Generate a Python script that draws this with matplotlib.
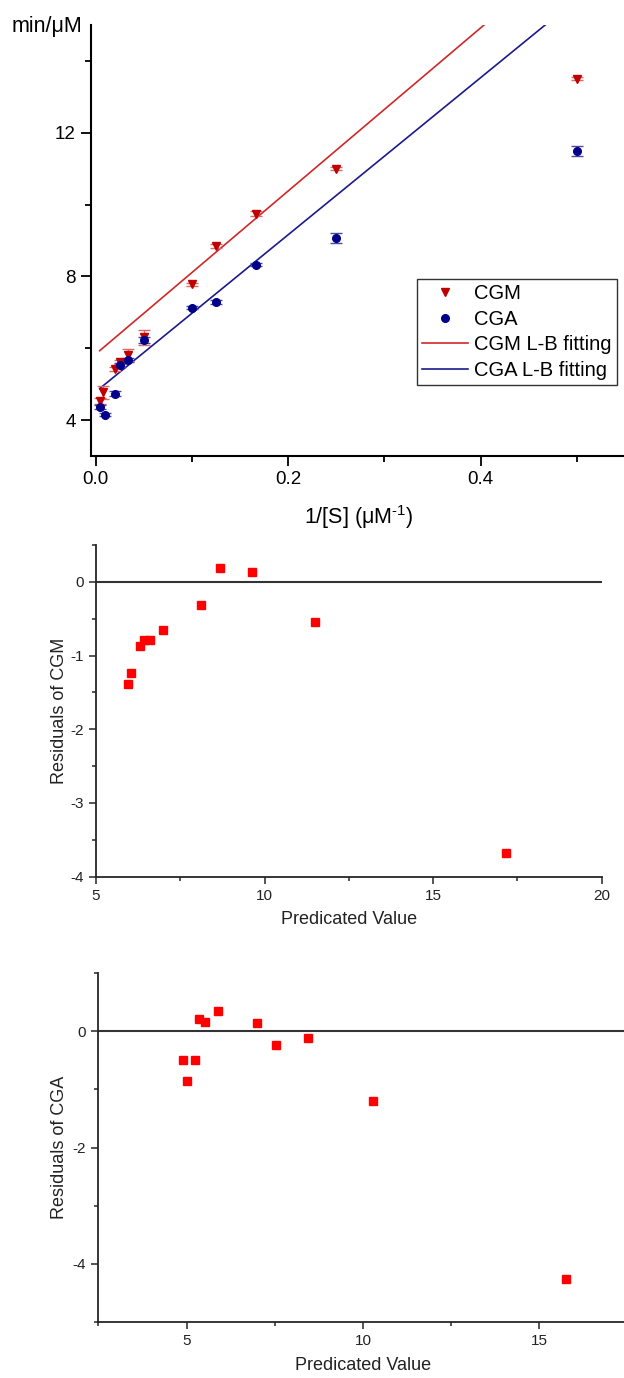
import matplotlib
matplotlib.use("Agg")
import matplotlib.pyplot as plt
import numpy as np
from matplotlib.ticker import MultipleLocator

plt.rcParams['font.family'] = ['Liberation Sans', 'DejaVu Sans']
plt.rcParams['axes.unicode_minus'] = False
plt.rcParams['mathtext.fontset'] = 'custom'
plt.rcParams['mathtext.rm'] = 'Liberation Sans'
plt.rcParams['mathtext.it'] = 'Liberation Sans'

# ---- Lineweaver-Burk data ----
inv_S_CGM = [0.004, 0.0075, 0.02, 0.025, 0.0333, 0.05, 0.1, 0.125, 0.1667, 0.25, 0.5]
v_CGM = [4.54, 4.77, 5.42, 5.61, 5.81, 6.31, 7.78, 8.85, 9.75, 11.0, 13.5]
err_CGM = [0.08, 0.18, 0.05, 0.05, 0.16, 0.21, 0.05, 0.05, 0.06, 0.04, 0.04]

inv_S_CGA = [0.004, 0.01, 0.02, 0.025, 0.0333, 0.05, 0.1, 0.125, 0.1667, 0.25, 0.5]
v_CGA = [4.37, 4.15, 4.73, 5.54, 5.67, 6.23, 7.13, 7.28, 8.33, 9.08, 11.49]
err_CGA = [0.05, 0.04, 0.07, 0.05, 0.06, 0.08, 0.05, 0.06, 0.04, 0.14, 0.14]

# L-B fitting lines (slope, intercept)
fit_CGM = (22.7, 5.84)
fit_CGA = (21.86, 4.79)
fit_range = [0.004, 0.5]

# ---- residuals ----
pred_CGM = [5.94, 6.04, 6.31, 6.43, 6.60, 6.99, 8.12, 8.69, 9.63, 11.51, 17.17]
res_CGM = [-1.39, -1.23, -0.87, -0.79, -0.79, -0.65, -0.31, 0.19, 0.13, -0.54, -3.68]

pred_CGA = [4.89, 5.01, 5.24, 5.36, 5.53, 5.90, 7.01, 7.55, 8.45, 10.29, 15.77]
res_CGA = [-0.50, -0.85, -0.49, 0.21, 0.16, 0.35, 0.15, -0.24, -0.12, -1.20, -4.27]

W, H = 624, 1378
fig = plt.figure(figsize=(W / 100, H / 100), dpi=100)

def ax_rect(l, t, r, b):
    return [l / W, 1 - b / H, (r - l) / W, (b - t) / H]

spine_c = '#262626'

# ================= top plot =================
ax1 = fig.add_axes(ax_rect(91, 25, 624, 456))
red_m = '#C00000'
blue_m = '#00008B'
xf = np.array(fit_range)
ax1.plot(xf, fit_CGM[0] * xf + fit_CGM[1], color='#D02828', lw=1.2, label='CGM L-B fitting', zorder=2)
ax1.plot(xf, fit_CGA[0] * xf + fit_CGA[1], color='#1A1A8C', lw=1.2, label='CGA L-B fitting', zorder=2)
ax1.errorbar(inv_S_CGM, v_CGM, yerr=err_CGM, fmt='v', color=red_m, ms=5.5, ecolor='#D86A6A',
             elinewidth=1, capsize=4, capthick=1, label='CGM', zorder=3)
ax1.errorbar(inv_S_CGA, v_CGA, yerr=err_CGA, fmt='o', color=blue_m, ms=5.5, ecolor='#4A4A9A',
             elinewidth=1, capsize=4, capthick=1, label='CGA', zorder=3)
ax1.set_xlim(-0.005, 0.549)
ax1.set_ylim(3, 15)
ax1.xaxis.set_minor_locator(MultipleLocator(0.1))
ax1.yaxis.set_minor_locator(MultipleLocator(2))
ax1.set_xticks([0.0, 0.2, 0.4])
ax1.set_xticklabels(['0.0', '0.2', '0.4'])
ax1.set_yticks([4, 8, 12])
for s in ['top', 'right']:
    ax1.spines[s].set_visible(False)
for s in ['left', 'bottom']:
    ax1.spines[s].set_linewidth(1.5)
    ax1.spines[s].set_color('black')
ax1.tick_params(which='major', direction='out', length=7, width=1.3, labelsize=13.5, pad=4)
ax1.tick_params(which='minor', direction='out', length=4, width=1.3)
ax1.set_xlabel('1/[S] (μM$^{\\text{-1}}$)', fontsize=15.5, va='center')
ax1.xaxis.set_label_coords(0.503, -0.1415)
fig.text(82 / W, 1 - 32 / H, 'min/μM', ha='right', va='baseline', fontsize=15.5)

handles, labels = ax1.get_legend_handles_labels()
order = [labels.index(k) for k in ['CGM', 'CGA', 'CGM L-B fitting', 'CGA L-B fitting']]
h2 = []
for i in order:
    h = handles[i]
    if hasattr(h, 'lines'):
        h = h.lines[0]
    h2.append(h)
leg = ax1.legend(h2, [labels[i] for i in order], loc='upper left',
                 bbox_to_anchor=(0.6116, 0.4107), borderaxespad=0, fontsize=14.5,
                 frameon=True, fancybox=False, edgecolor='#333333', framealpha=1,
                 handlelength=2.3, handletextpad=0.3, borderpad=0.25, labelspacing=0.33)
leg.get_frame().set_linewidth(1.0)

# ================= middle plot =================
ax2 = fig.add_axes(ax_rect(95.9, 545, 601.7, 876.7))
ax2.axhline(0, color='#333333', lw=1.5, zorder=1)
ax2.plot(pred_CGM, res_CGM, 's', color='#FF0000', ms=5.3, zorder=3)
ax2.set_xlim(5, 20)
ax2.set_ylim(-4, 0.5)
ax2.xaxis.set_major_locator(MultipleLocator(5))
ax2.xaxis.set_minor_locator(MultipleLocator(2.5))
ax2.yaxis.set_major_locator(MultipleLocator(1))
ax2.yaxis.set_minor_locator(MultipleLocator(0.5))
for s in ['top', 'right']:
    ax2.spines[s].set_visible(False)
for s in ['left', 'bottom']:
    ax2.spines[s].set_linewidth(1.3)
    ax2.spines[s].set_color(spine_c)
ax2.tick_params(which='major', direction='out', length=5, width=1.1, labelsize=11, pad=4, color=spine_c, labelcolor='#222222')
ax2.tick_params(which='minor', direction='out', length=3, width=1.1, color=spine_c)
ax2.set_xlabel('Predicated Value', fontsize=13, va='center', color='#222222')
ax2.xaxis.set_label_coords(0.5, -0.1305)
ax2.set_ylabel('Residuals of CGM', fontsize=13, va='center', color='#222222')
ax2.yaxis.set_label_coords(-0.071, 0.5)

# ================= bottom plot =================
ax3 = fig.add_axes(ax_rect(98.3, 973.3, 624, 1321.7))
ax3.axhline(0, color='#333333', lw=1.5, zorder=1)
ax3.plot(pred_CGA, res_CGA, 's', color='#FF0000', ms=5.3, zorder=3)
ax3.set_xlim(2.5, 17.4)
ax3.set_ylim(-5, 1)
ax3.xaxis.set_major_locator(MultipleLocator(5))
ax3.xaxis.set_minor_locator(MultipleLocator(2.5))
ax3.yaxis.set_major_locator(MultipleLocator(2))
ax3.yaxis.set_minor_locator(MultipleLocator(1))
for s in ['top', 'right']:
    ax3.spines[s].set_visible(False)
for s in ['left', 'bottom']:
    ax3.spines[s].set_linewidth(1.3)
    ax3.spines[s].set_color(spine_c)
ax3.tick_params(which='major', direction='out', length=5, width=1.1, labelsize=11, pad=4, color=spine_c, labelcolor='#222222')
ax3.tick_params(which='minor', direction='out', length=3, width=1.1, color=spine_c)
ax3.set_xlabel('Predicated Value', fontsize=13, va='center', color='#222222')
ax3.xaxis.set_label_coords(0.5035, -0.127)
ax3.set_ylabel('Residuals of CGA', fontsize=13, va='center', color='#222222')
ax3.yaxis.set_label_coords(-0.0729, 0.5)

fig.savefig('out.png', dpi=100)
